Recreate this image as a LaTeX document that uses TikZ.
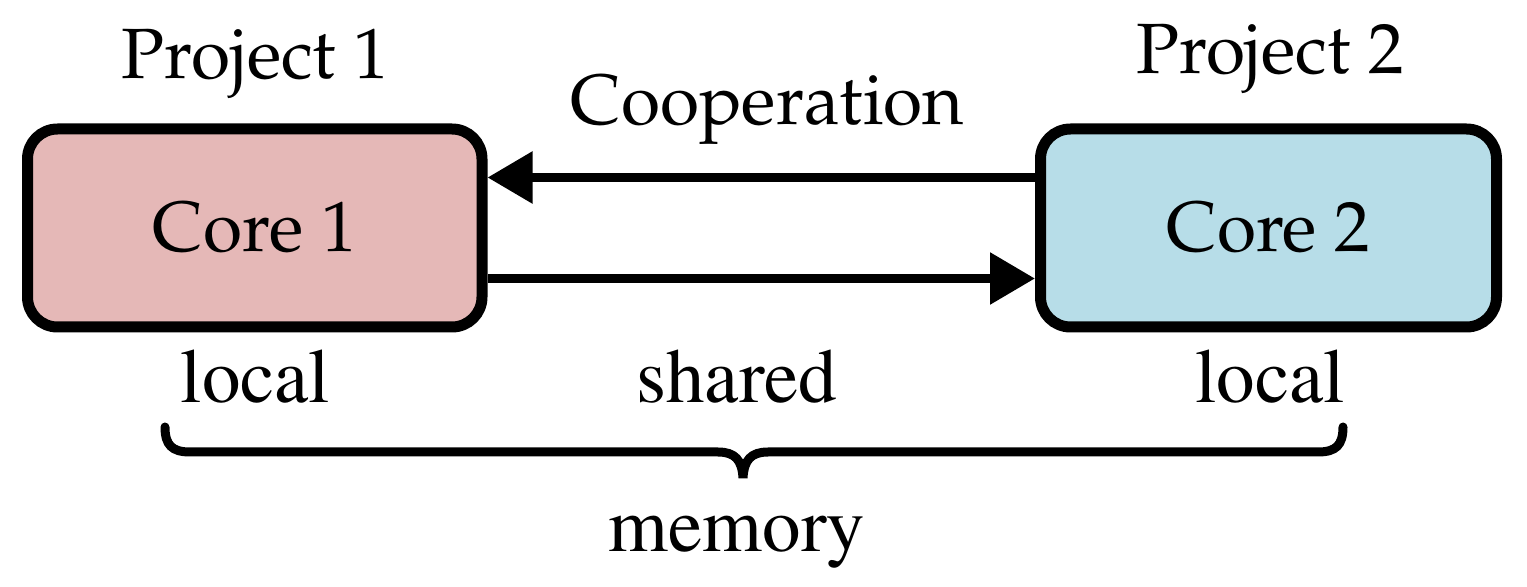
\documentclass[tikz,border=0pt]{standalone}
\usepackage[T1]{fontenc}
\usetikzlibrary{arrows.meta}
\definecolor{corepink}{HTML}{E5B8B7}
\definecolor{coreblue}{HTML}{B7DDE8}
\newcommand{\palfont}{\fontfamily{ppl}\fontsize{35.6pt}{41pt}\selectfont}
\newcommand{\timfont}{\fontfamily{ptm}\fontsize{38.5pt}{44pt}\selectfont}
\begin{document}
\begin{tikzpicture}[x=0.5pt,y=-0.5pt,
  corebox/.style={draw=black,line width=5.5pt,rounded corners=15pt,
    minimum height=99pt,inner sep=0pt,font=\palfont},
  lbl/.style={anchor=base,inner sep=0pt,font=\palfont},
  mlbl/.style={anchor=base,inner sep=0pt,font=\timfont},
  conn/.style={line width=4.5pt,-{Triangle[length=22.5pt,width=25pt]}},
  bracepath/.style={line width=4.5pt,line cap=round}]
\useasboundingbox (0,0) rectangle (1527,587);
\node[corebox,fill=corepink,minimum width=227.25pt] (c1) at (254.75,228) {Core 1};
\node[corebox,fill=coreblue,minimum width=228pt] (c2) at (1268.5,228) {Core 2};
\node[lbl] (p1) at (255.5,79) {Project 1};
\node[lbl] (p2) at (1270,74) {Project 2};
\node[lbl] (coop) at (767.5,125) {Cooperation};
\draw[conn] ([yshift=25.25pt]c2.west) -- ([yshift=25.25pt]c1.east);
\draw[conn] ([yshift=-25.25pt]c1.east) -- ([yshift=-25.25pt]c2.west);
\node[mlbl] (l1) at (255.5,403) {local};
\node[mlbl] (sh) at (737,403) {shared};
\node[mlbl] (l2) at (1270,403) {local};
\node[mlbl] (mem) at (737,552) {memory};
\coordinate (bl) at (165,427);
\coordinate (br) at (1343,427);
\coordinate (bt) at (743,478);
\draw[bracepath] (bl) .. controls (165,445) and (172,452) .. (190,452) -- (718,452)
  .. controls (735,452) and (742,460) .. (bt)
  .. controls (744,460) and (751,452) .. (768,452) -- (1318,452)
  .. controls (1336,452) and (1343,445) .. (br);
\end{tikzpicture}
\end{document}
